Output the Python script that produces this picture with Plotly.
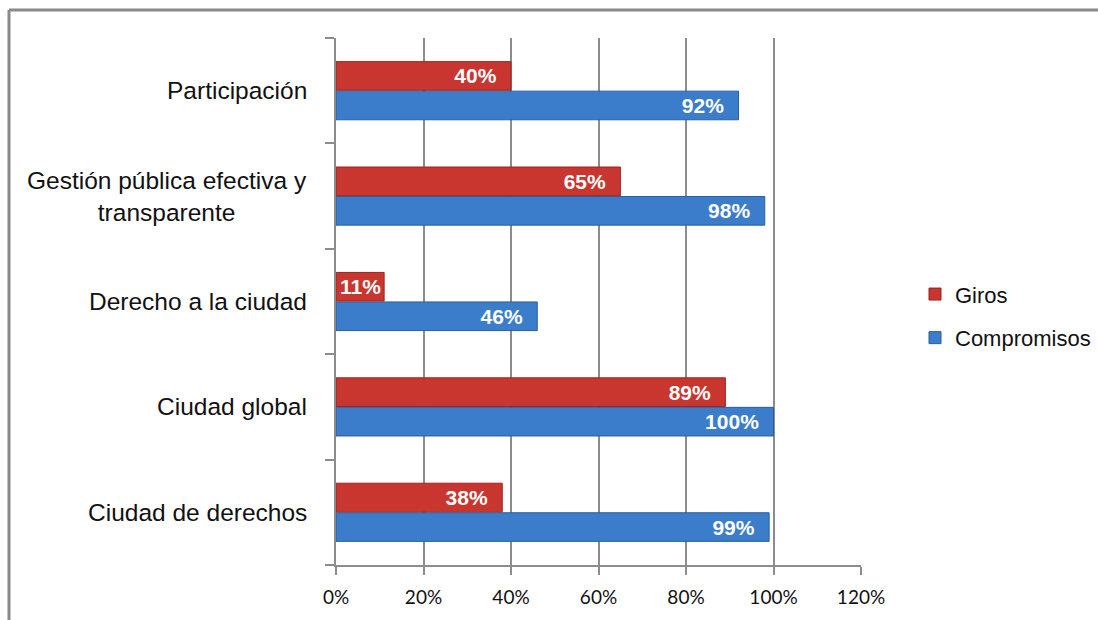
import plotly.graph_objects as go

categories = ["Ciudad de derechos", "Ciudad global", "Derecho a la ciudad",
              "Gestión pública efectiva y<br>transparente", "Participación"]
giros = [0.38, 0.89, 0.11, 0.65, 0.40]
compromisos = [0.99, 1.00, 0.46, 0.98, 0.92]
giros_labels = ["38%", "89%", "11%", "65%", "40%"]
compromisos_labels = ["99%", "100%", "46%", "98%", "92%"]
x_ticks = [0, 0.2, 0.4, 0.6, 0.8, 1.0, 1.2]
x_tick_text = ["0%", "20%", "40%", "60%", "80%", "100%", "120%"]

RED = "#C9352F"
BLUE = "#3B7DCB"
GRID = "#8C8C8C"
LABEL_FONT = dict(color="white", size=21, family="Liberation Sans, Arial", weight="bold")
PAD = "%{text}\u00a0\u00a0"

# short bars get no trailing padding so the label stays inside
giros_tpl = [PAD if v > 0.2 else "%{text}" for v in giros]
comp_tpl = [PAD if v > 0.2 else "%{text}" for v in compromisos]

fig = go.Figure()
fig.add_trace(go.Bar(
    y=categories, x=compromisos, orientation="h", name="Compromisos",
    marker=dict(color=BLUE, line=dict(color="#2A5E9E", width=1)),
    text=compromisos_labels, texttemplate=comp_tpl,
    textposition="inside", insidetextanchor="end", textfont=LABEL_FONT,
    constraintext="none",
    legendgroup="c", legendrank=2,
))
fig.add_trace(go.Bar(
    y=categories, x=giros, orientation="h", name="Giros",
    marker=dict(color=RED, line=dict(color="#9B2420", width=1)),
    text=giros_labels, texttemplate=giros_tpl,
    textposition="inside", insidetextanchor="end", textfont=LABEL_FONT,
    constraintext="none",
    legendgroup="g", legendrank=1,
))

for c in categories:
    fig.add_annotation(
        x=-27 / 525, xref="paper", y=c, yref="y", text=c, showarrow=False,
        xanchor="right", yanchor="middle", align="center",
        font=dict(family="Liberation Sans, Arial", size=24.5, color="#111111"),
    )

fig.update_layout(
    width=1098, height=620,
    margin=dict(l=336, r=237, t=38, b=55, autoexpand=False),
    paper_bgcolor="white", plot_bgcolor="white",
    barmode="group", bargap=0.44, bargroupgap=0.03,
    showlegend=True,
    legend=dict(
        x=(915 - 336) / 525, y=0.472, xanchor="left", yanchor="middle",
        traceorder="grouped", tracegroupgap=12,
        font=dict(family="Liberation Sans, Arial", size=22, color="#111111"),
        itemwidth=30, bgcolor="rgba(0,0,0,0)",
    ),
    xaxis=dict(
        range=[0, 1.2], tickvals=x_ticks, ticktext=x_tick_text,
        showgrid=True, gridcolor=GRID, gridwidth=2,
        showline=True, linecolor=GRID, linewidth=2,
        ticks="outside", ticklen=8, tickcolor=GRID, tickwidth=2,
        tickfont=dict(family="Lato, Carlito, Calibri, sans-serif", size=19, color="#111111"),
        ticklabelstandoff=6,
        zeroline=False,
    ),
    yaxis=dict(
        showticklabels=False, tickson="boundaries",
        ticks="outside", ticklen=9, tickcolor=GRID, tickwidth=2,
        showline=True, linecolor=GRID, linewidth=2, showgrid=False,
    ),
    shapes=[
        dict(type="line", xref="paper", yref="paper", x0=(9 - 336) / 525, x1=2,
             y0=(565 - 10) / 527, y1=(565 - 10) / 527,
             line=dict(color="#8A8A8A", width=3), layer="above"),
        dict(type="line", xref="paper", yref="paper", x0=(9 - 336) / 525, x1=(9 - 336) / 525,
             y0=(565 - 10) / 527, y1=-2, line=dict(color="#8A8A8A", width=3)),
    ],
)

fig.write_html("out.html")
